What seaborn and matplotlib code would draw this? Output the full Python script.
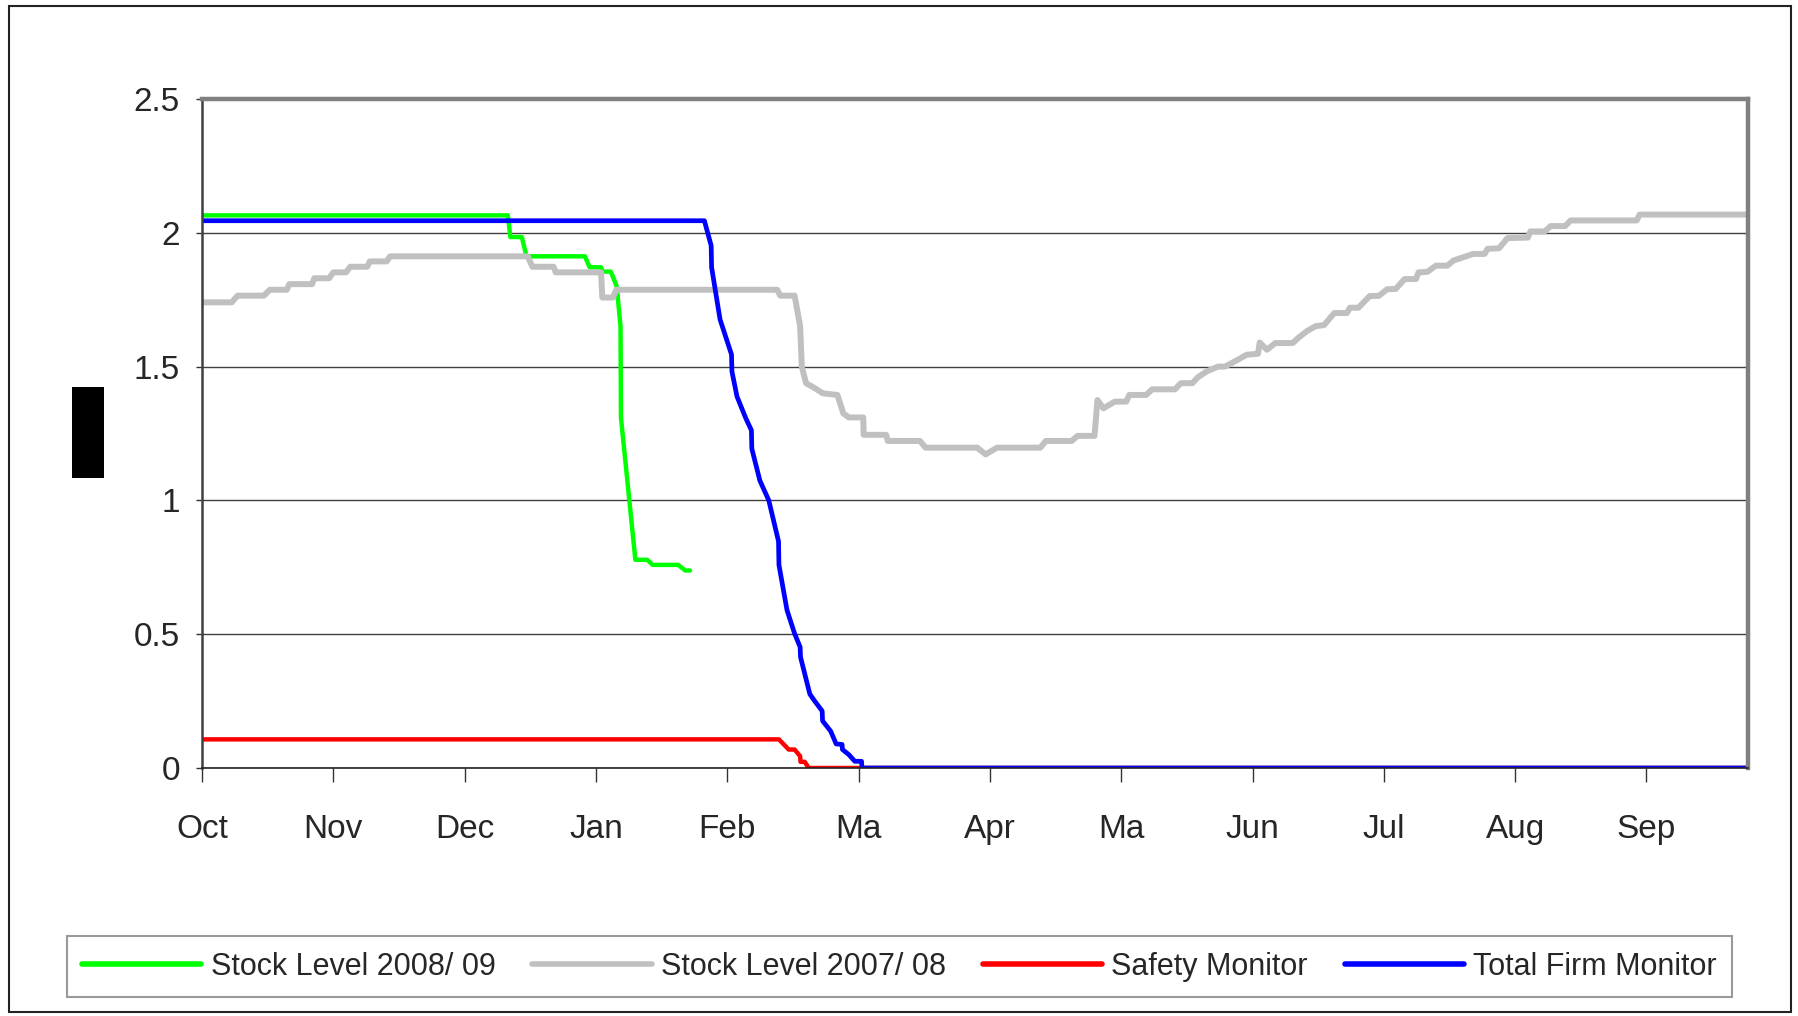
import matplotlib
matplotlib.use('Agg')
import matplotlib.pyplot as plt
import seaborn as sns
import pandas as pd
from matplotlib.patches import Rectangle

# x = day of the year starting 1 Oct, y = stock level
green_days = [0, 72.2, 72.8, 75.5, 76.6, 90.4, 91.5, 94.2, 94.5, 96.5, 97.9, 98.8, 98.9,
              102.3, 105.1, 106.4, 112.4, 114.1, 115.2]
green_vals = [2.065, 2.065, 1.984, 1.984, 1.912, 1.912, 1.871, 1.871, 1.855, 1.855, 1.80, 1.65, 1.31,
              0.778, 0.778, 0.759, 0.759, 0.738, 0.738]

gray_days = [0, 7, 8.4, 14.6, 16, 20, 20.6, 26, 26.5, 30, 31, 34, 35, 39, 39.6, 43.6, 44.4, 76.9,
             78, 83, 83.5, 94.2, 94.5, 97, 97.8, 135.8, 136.5, 139.9, 141.2, 141.6, 142.6, 144.6,
             146.6, 150, 151.4, 152.7, 156.1, 156.2, 161.5, 161.9, 169.5, 170.8, 183, 185, 187.7,
             197.9, 199.2, 205.3, 206.7, 210.7, 211.4, 212.8, 215.5, 218.2, 218.9, 222.9, 224.3,
             229.7, 231.1, 233.8, 235.1, 237.2, 239.9, 241.5, 243.9, 246.6, 249.3, 249.7, 251.4,
             253.4, 257.5, 258.8, 260.8, 262.9, 264.9, 267.3, 270.3, 271.0, 273.0, 275.7, 277.8,
             279.8, 281.8, 283.9, 286.6, 287.2, 289.3, 291.3, 294.0, 295.4, 300.1, 302.8, 303.5,
             306.2, 308.2, 313.0, 313.6, 317.0, 318.4, 321.8, 323.1, 338.7, 339.4, 365]
gray_vals = [1.74, 1.74, 1.765, 1.765, 1.787, 1.787, 1.808, 1.808, 1.83, 1.83, 1.852, 1.852, 1.873,
             1.873, 1.893, 1.893, 1.912, 1.912, 1.873, 1.873, 1.852, 1.852, 1.758, 1.758, 1.787,
             1.787, 1.765, 1.765, 1.651, 1.5, 1.438, 1.42, 1.40, 1.394, 1.325, 1.31, 1.31, 1.245,
             1.245, 1.222, 1.222, 1.197, 1.197, 1.172, 1.197, 1.197, 1.222, 1.222, 1.241, 1.241,
             1.375, 1.344, 1.369, 1.369, 1.394, 1.394, 1.415, 1.415, 1.438, 1.438, 1.46, 1.482,
             1.50, 1.50, 1.52, 1.544, 1.548, 1.59, 1.563, 1.588, 1.588, 1.607, 1.632, 1.651, 1.655,
             1.70, 1.70, 1.72, 1.72, 1.764, 1.764, 1.789, 1.79, 1.827, 1.827, 1.852, 1.854, 1.877,
             1.877, 1.896, 1.921, 1.921, 1.94, 1.942, 1.98, 1.982, 2.005, 2.005, 2.025, 2.025,
             2.046, 2.046, 2.068, 2.068]

red_days = [0, 136.2, 138.5, 139.9, 141.2, 141.3, 142.3, 143.2, 365]
red_vals = [0.107, 0.107, 0.069, 0.069, 0.044, 0.023, 0.023, 0.0, 0.0]

blue_days = [0, 118.6, 120.2, 120.3, 122.3, 125, 125.1, 126.3, 128.4, 129.7, 129.8, 131.7, 133.8,
             136.1, 136.2, 138.1, 139.9, 141.2, 141.3, 143.5, 144.6, 146.4, 146.5, 148.4, 149.7,
             151.1, 151.2, 152.7, 154.1, 155.7, 155.8, 365]
blue_vals = [2.045, 2.045, 1.952, 1.871, 1.676, 1.545, 1.482, 1.388, 1.306, 1.262, 1.193, 1.074,
             1.0, 0.847, 0.759, 0.59, 0.502, 0.452, 0.414, 0.276, 0.251, 0.213, 0.176, 0.138, 0.09,
             0.088, 0.069, 0.05, 0.025, 0.025, 0.0, 0.0]

month_labels = ['Oct', 'Nov', 'Dec', 'Jan', 'Feb', 'Ma', 'Apr', 'Ma', 'Jun', 'Jul', 'Aug', 'Sep']
y_ticks = [0, 0.5, 1, 1.5, 2, 2.5]
y_labels = ['0', '0.5', '1', '1.5', '2', '2.5']

series = [
    ('Stock Level 2008/ 09', green_days, green_vals, '#00FF00', 3.2),
    ('Stock Level 2007/ 08', gray_days, gray_vals, '#C0C0C0', 4.3),
    ('Safety Monitor', red_days, red_vals, '#FF0000', 3.2),
    ('Total Firm Monitor', blue_days, blue_vals, '#0000FF', 3.4),
]

sns.set_style('white')
plt.rcParams['font.family'] = ['Liberation Sans', 'DejaVu Sans']

fig = plt.figure(figsize=(17.99, 10.16), dpi=100)
ax = fig.add_axes([0.1123, 0.2441, 0.8594, 0.6585])

for name, days, vals, color, lw in series:
    df = pd.DataFrame({'day': days, 'level': vals})
    sns.lineplot(data=df, x='day', y='level', ax=ax, color=color, lw=lw,
                 sort=False, estimator=None, label=name)

ax.set_xlim(0, 365)
ax.set_ylim(0, 2.5)
ax.set_xticks([31 * i for i in range(12)])
ax.set_xticklabels(month_labels)
ax.set_yticks(y_ticks)
ax.set_yticklabels(y_labels)
ax.set_xlabel('')
ax.set_ylabel('')
ax.grid(axis='y', color='#404040', lw=1.0)
ax.set_axisbelow(True)

ax.tick_params(axis='x', direction='out', length=10, width=1, color='#333333',
               labelsize=24, pad=23, bottom=True)
ax.tick_params(axis='y', direction='out', length=4, width=1, color='#333333',
               labelsize=24, pad=12, left=True)

for side in ['top', 'right']:
    ax.spines[side].set_color('#808080')
    ax.spines[side].set_linewidth(3.2)
ax.spines['left'].set_color('#404040')
ax.spines['left'].set_linewidth(1.8)
ax.spines['bottom'].set_color('#222222')
ax.spines['bottom'].set_linewidth(1.2)

handles, labels = ax.get_legend_handles_labels()
ax.legend_.remove()
leg = fig.legend(handles, labels, loc='center', ncol=4, mode='expand',
                 bbox_to_anchor=(0.0372, 0.0118, 0.9255, 0.0738),
                 fontsize=22, handlelength=3.9, handletextpad=0.3,
                 frameon=True, fancybox=False, borderaxespad=0, borderpad=0.5)
leg.get_frame().set_edgecolor('#808080')
leg.get_frame().set_linewidth(1.5)
for line in leg.get_lines():
    line.set_linewidth(4)

# redacted y-axis title block and the outer chart border
fig.patches.append(Rectangle((0.040, 0.5295), 0.0178, 0.0896, transform=fig.transFigure,
                             facecolor='black', edgecolor='none'))
fig.patches.append(Rectangle((0.005, 0.004), 0.9905, 0.990, transform=fig.transFigure,
                             facecolor='none', edgecolor='#222222', lw=1.5))

fig.savefig('out.png', dpi=100)
